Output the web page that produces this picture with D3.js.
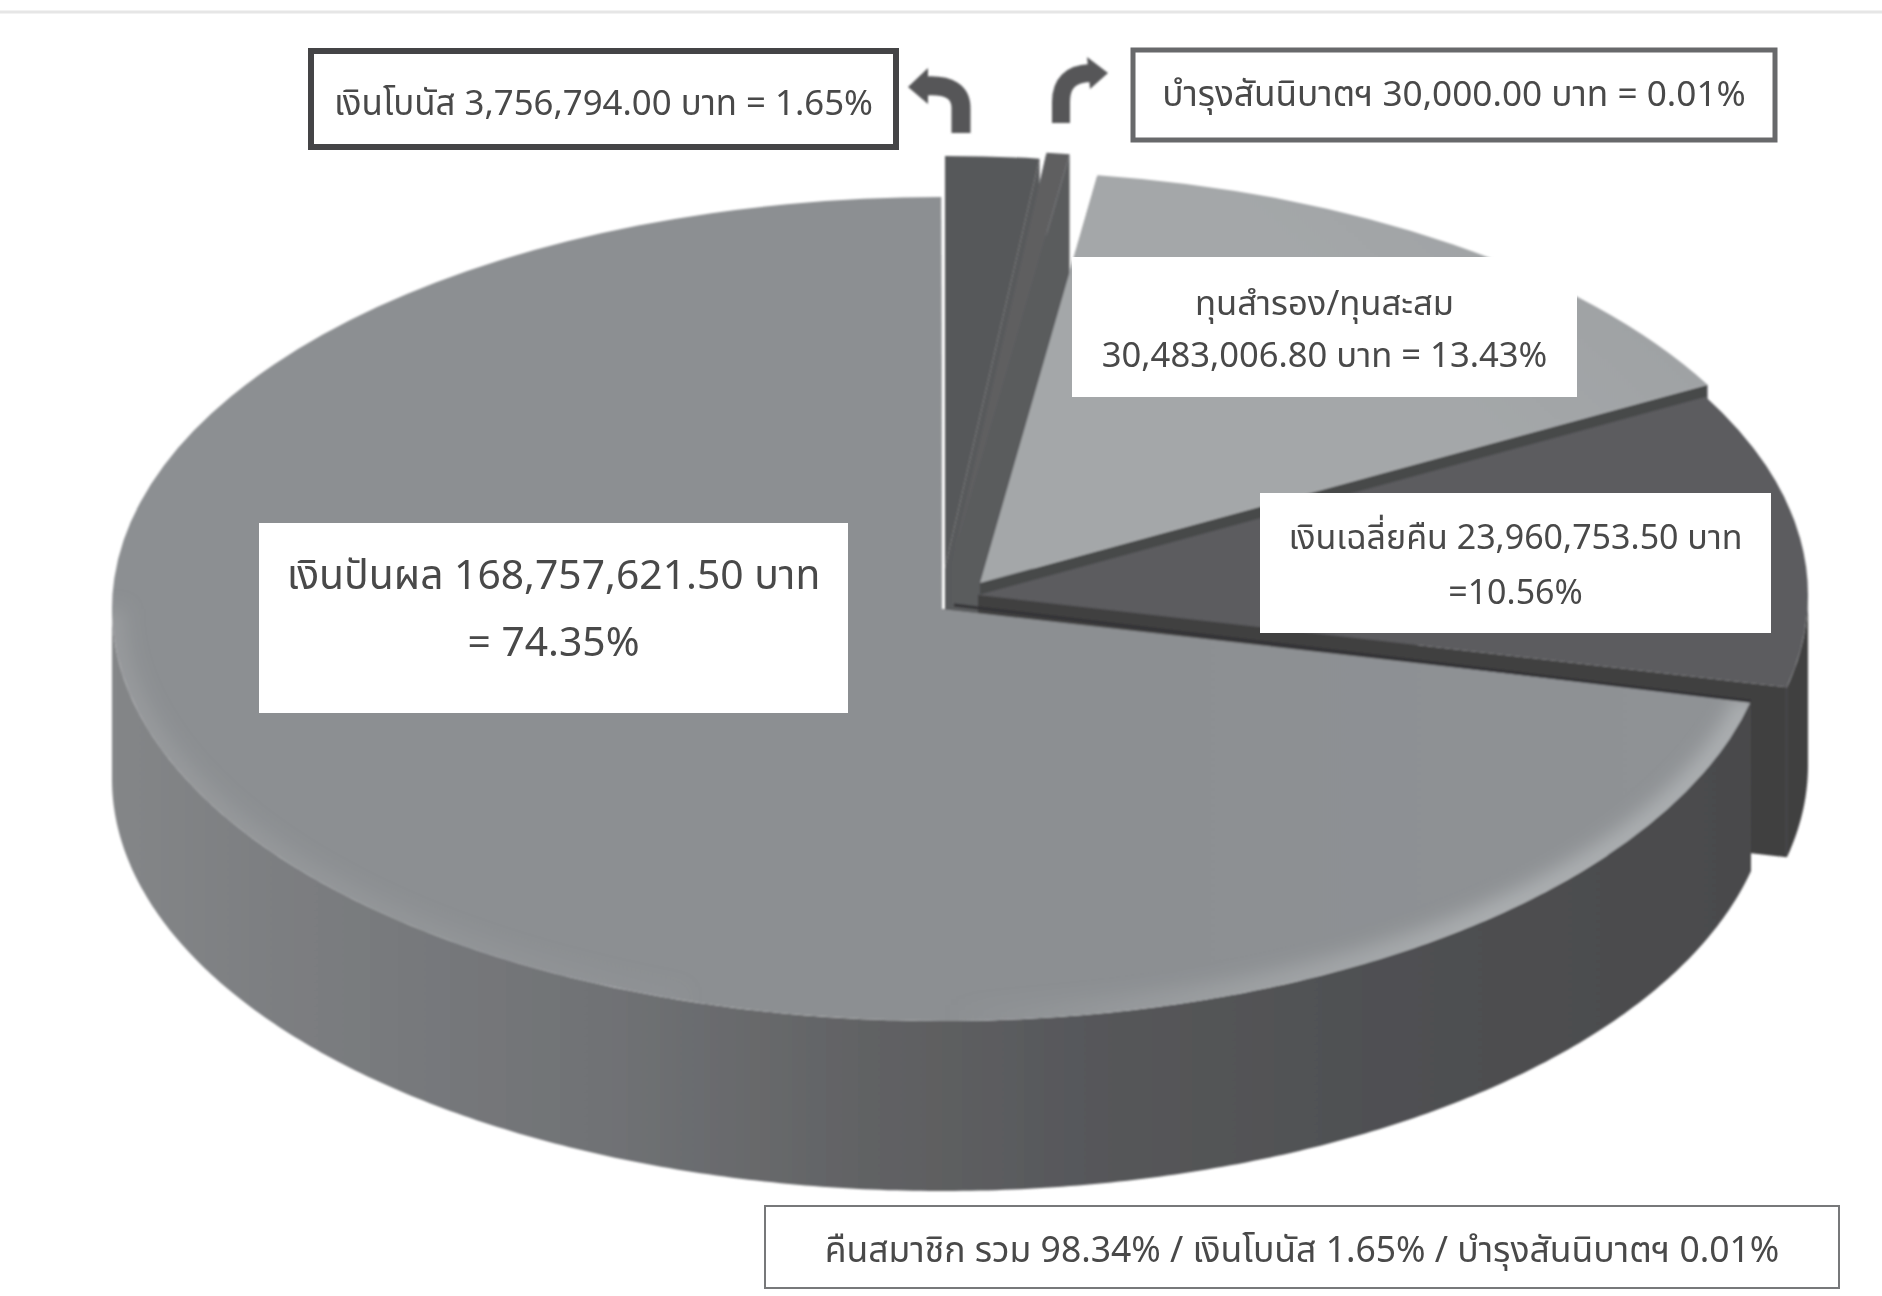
<!DOCTYPE html>
<html lang="th">
<head>
<meta charset="utf-8">
<title>3D pie</title>
<script src="https://d3js.org/d3.v7.min.js"></script>
<style>
html, body { margin: 0; padding: 0; background: #fff; }
svg { display: block; }
text { font-family: Tahoma, "Noto Sans Thai", "Noto Sans", "DejaVu Sans", sans-serif; fill: #484848; text-anchor: middle; }
</style>
</head>
<body>
<div id="container"></div>
<script>
// data
var categories = ["เงินโบนัส", "บำรุงสันนิบาตฯ", "ทุนสำรอง/ทุนสะสม", "เงินเฉลี่ยคืน", "เงินปันผล"];
var amounts = [3756794.00, 30000.00, 30483006.80, 23960753.50, 168757621.50];
var amountLabels = ["3,756,794.00", "30,000.00", "30,483,006.80", "23,960,753.50", "168,757,621.50"];
var percents = ["1.65%", "0.01%", "13.43%", "10.56%", "74.35%"];
var summaryText = "คืนสมาชิก รวม 98.34% / เงินโบนัส 1.65% / บำรุงสันนิบาตฯ 0.01%";

// layout
var w = 1882, h = 1296;
var cx = 942, cy = 609, rx = 830, ry = 412, depth = 170;
var explode = [[3, -41], [10, -47], [38, -26], [36, -14], [0, 0]];
var topFill = ["url(#bonusTop)", "#5e5f61", "url(#reserveTop)", "url(#refundTop)", "url(#mainTop)"];
var wallFill = ["#585a5c", "#5a5b5d", "#47484a", "#403f41", "url(#mainWall)"];

var svg = d3.select("#container").append("svg")
    .attr("width", w).attr("height", h).attr("viewBox", "0 0 " + w + " " + h)
    .style("background", "white");

var defs = svg.append("defs");

function gradient(id, x1, y1, x2, y2, stops) {
    var g = defs.append("linearGradient").attr("id", id)
        .attr("gradientUnits", "userSpaceOnUse")
        .attr("x1", x1).attr("y1", y1).attr("x2", x2).attr("y2", y2);
    stops.forEach(function(s) {
        g.append("stop").attr("offset", s[0]).attr("stop-color", s[1]).attr("stop-opacity", s[2] === undefined ? 1 : s[2]);
    });
}
gradient("mainTop", 112, 0, 1760, 0, [[0, "#8c8f92"], [0.5, "#909396"], [1, "#919497"]]);
gradient("mainWall", 112, 0, 1760, 0, [[0, "#848688"], [0.12, "#7b7d80"], [0.3, "#707275"], [0.45, "#626365"], [0.6, "#56575a"], [0.75, "#505153"], [1, "#4a4a4c"]]);
gradient("reserveTop", 1000, 560, 1650, 200, [[0, "#a4a7a9"], [0.6, "#9b9ea0"], [1, "#8a8c8e"]]);
gradient("refundTop", 980, 600, 1800, 500, [[0, "#5b5c5e"], [0.6, "#616264"], [1, "#545557"]]);
gradient("bonusTop", 945, 0, 1041, 0, [[0, "#56585a"], [0.2, "#66686a"], [1, "#5b5c5e"]]);
gradient("bevelRight", 950, 0, 1500, 0, [[0, "#b4b7b9", 0], [1, "#b4b7b9", 0.75]]);
gradient("bevelLeft", 112, 0, 800, 0, [[0, "#a3a5a7", 0.5], [1, "#a3a5a7", 0]]);

defs.append("filter").attr("id", "soft").attr("x", "-5%").attr("y", "-5%").attr("width", "110%").attr("height", "110%")
    .append("feGaussianBlur").attr("stdDeviation", 1.1);
defs.append("filter").attr("id", "softText")
    .append("feGaussianBlur").attr("stdDeviation", 0.55);
defs.append("filter").attr("id", "bevelBlur").attr("filterUnits", "userSpaceOnUse")
    .attr("x", 0).attr("y", 0).attr("width", w).attr("height", h)
    .append("feGaussianBlur").attr("stdDeviation", 9);

// faint rule left at the top of the scan
svg.append("line").attr("x1", 0).attr("x2", w).attr("y1", 12).attr("y2", 12)
    .attr("stroke", "#e6e6e6").attr("stroke-width", 3);

// angles: pie gives the true share, the view foreshortens the back of the disc
var pie = d3.pie().sort(null).value(function(d) { return d; });
var arcs = pie(amounts);
var backEnd = arcs[3].endAngle;
var minSweep = 1.6 * Math.PI / 180; // so the 0.01% piece can be seen at all
var warp = d3.scaleLinear().domain([0, backEnd, 2 * Math.PI])
    .range([0, 103 * Math.PI / 180 - minSweep, 2 * Math.PI - minSweep]);

var running = 0;
var slices = arcs.map(function(a, i) {
    var sweep = Math.max(warp(a.endAngle) - warp(a.startAngle), minSweep);
    var s = { i: i, a0: running, a1: running + sweep, ax: cx + explode[i][0], ay: cy + explode[i][1] };
    running += sweep;
    return s;
});

function px(s, a) { return s.ax + rx * Math.sin(a); }
function py(s, a) { return s.ay - ry * Math.cos(a); }

var arcGen = d3.arc().innerRadius(0).outerRadius(rx);
var radialWall = d3.line();
var rimWall = d3.area()
    .x(function(d) { return d.x; })
    .y0(function(d) { return d.y; })
    .y1(function(d) { return d.y + depth; });
var rimLine = d3.line()
    .x(function(d) { return d.x; })
    .y(function(d) { return d.y; });

function rimPoints(s, from, to) {
    return d3.range(from, to, 0.01).concat([to]).map(function(a) {
        return { x: px(s, a), y: py(s, a) };
    });
}

var disc = svg.append("g").attr("filter", "url(#soft)");

var pieces = disc.selectAll("g.piece").data(slices).enter().append("g").attr("class", "piece");

pieces.each(function(s) {
    var g = d3.select(this);
    // radial faces
    [s.a0, s.a1].forEach(function(a) {
        g.append("path")
            .attr("d", radialWall([[s.ax, s.ay], [px(s, a), py(s, a)], [px(s, a), py(s, a) + depth], [s.ax, s.ay + depth]]) + "Z")
            .attr("fill", s.i == 4 ? "#3a3a3c" : wallFill[s.i]);
    });
    // rim, only the part turned to the viewer
    var from = Math.max(s.a0, Math.PI / 2), to = Math.min(s.a1, 3 * Math.PI / 2);
    if (to > from) {
        g.append("path").attr("d", rimWall(rimPoints(s, from, to))).attr("fill", wallFill[s.i]);
    }
    // top face
    g.append("path")
        .attr("transform", "translate(" + s.ax + "," + s.ay + ") scale(1," + (ry / rx) + ")")
        .attr("d", arcGen({ startAngle: s.a0, endAngle: s.a1 }))
        .attr("fill", topFill[s.i]);
});

// lighter rounded edge of the big slice
var big = slices[4];
defs.append("clipPath").attr("id", "bigClip").append("path")
    .attr("transform", "translate(" + big.ax + "," + big.ay + ") scale(1," + (ry / rx) + ")")
    .attr("d", arcGen({ startAngle: big.a0, endAngle: big.a1 }));
var bevel = disc.append("g").attr("clip-path", "url(#bigClip)");
bevel.append("path")
    .attr("d", rimLine(rimPoints(big, big.a0, Math.PI)))
    .attr("fill", "none").attr("stroke", "url(#bevelRight)").attr("stroke-width", 32)
    .attr("filter", "url(#bevelBlur)");
bevel.append("path")
    .attr("d", rimLine(rimPoints(big, Math.PI * 1.1, Math.PI * 1.5)))
    .attr("fill", "none").attr("stroke", "url(#bevelLeft)").attr("stroke-width", 26)
    .attr("filter", "url(#bevelBlur)");

// soft seam between refund and main slice
disc.append("path")
    .attr("d", radialWall([[big.ax + 12, big.ay - 4], [px(big, big.a0), py(big, big.a0)]]))
    .attr("stroke", "#333335").attr("stroke-width", 3).attr("fill", "none");

// arrows to the two small pieces
var arrows = svg.append("g").attr("filter", "url(#soft)");
arrows.append("path").attr("d", "M961,133 L961,108 Q961,84 926,86")
    .attr("fill", "none").attr("stroke", "#565759").attr("stroke-width", 19);
arrows.append("path").attr("d", "M908,87 L928,68 L928,104 Z").attr("fill", "#565759");
arrows.append("path").attr("d", "M1061,123 L1061,102 Q1061,74 1090,73")
    .attr("fill", "none").attr("stroke", "#565759").attr("stroke-width", 18);
arrows.append("path").attr("d", "M1108,73 L1087,57 L1090,89 Z").attr("fill", "#565759");

// label boxes
var boxes = [
    { x: 311, y: 51, w: 585, h: 96, stroke: "#444446", sw: 6, size: 34.8,
      lines: [[categories[0] + " " + amountLabels[0] + " บาท = " + percents[0], 103]] },
    { x: 1133, y: 50, w: 642, h: 90, stroke: "#68696b", sw: 5, size: 35.2,
      lines: [[categories[1] + " " + amountLabels[1] + " บาท = " + percents[1], 94]] },
    { x: 1072, y: 257, w: 505, h: 140, size: 34.6,
      lines: [[categories[2], 303], [amountLabels[2] + " บาท = " + percents[2], 355]] },
    { x: 1260, y: 493, w: 511, h: 140, size: 34,
      lines: [[categories[3] + " " + amountLabels[3] + " บาท", 537], ["=" + percents[3], 592]] },
    { x: 259, y: 523, w: 589, h: 190, size: 40.8,
      lines: [[categories[4] + " " + amountLabels[4] + " บาท", 575], ["= " + percents[4], 642]] },
    { x: 765, y: 1206, w: 1074, h: 82, stroke: "#77787a", sw: 2, size: 35.5,
      lines: [[summaryText, 1250]] }
];

var box = svg.selectAll("g.box").data(boxes).enter().append("g").attr("class", "box");
box.append("rect")
    .attr("x", function(d) { return d.x; }).attr("y", function(d) { return d.y; })
    .attr("width", function(d) { return d.w; }).attr("height", function(d) { return d.h; })
    .attr("fill", "#fff")
    .attr("stroke", function(d) { return d.stroke || "none"; })
    .attr("stroke-width", function(d) { return d.sw || 0; });
box.each(function(d) {
    var g = d3.select(this);
    d.lines.forEach(function(l) {
        g.append("text")
            .attr("x", d.x + d.w / 2).attr("y", l[1])
            .attr("dy", "0.35em")
            .attr("font-size", d.size)
            .attr("filter", "url(#softText)")
            .text(l[0]);
    });
});
</script>
</body>
</html>
